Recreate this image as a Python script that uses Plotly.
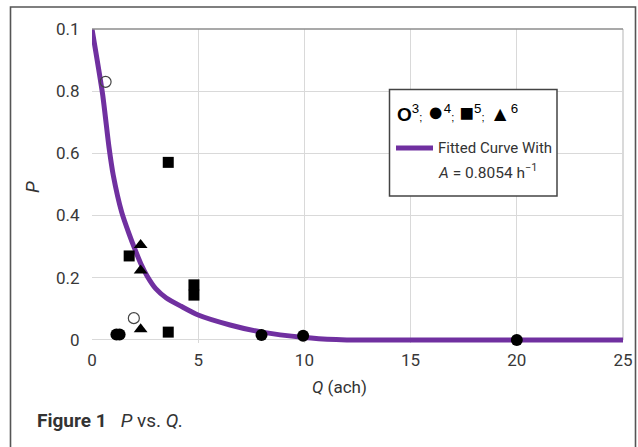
import plotly.graph_objects as go

# ---- data ----
curve_q = [0, 0.5, 0.8, 1.0, 1.4, 1.75, 2.0, 2.3, 2.6, 3.0, 3.5, 4.2, 5.0, 6.5, 8.0, 10.0, 11.5, 12.0, 25.0]
curve_p = [1.0, 0.79, 0.62, 0.53, 0.41, 0.34, 0.295, 0.245, 0.205, 0.165, 0.135, 0.108, 0.08, 0.048, 0.025, 0.008, 0.001, 0.0, 0.0]

open3_q = [0.64, 1.97]
open3_p = [0.83, 0.07]
filled4_q = [1.15, 1.3, 7.98, 9.94, 20.0]
filled4_p = [0.017, 0.017, 0.016, 0.013, 0.0]
square5_q = [1.75, 3.59, 4.8, 4.8, 3.59]
square5_p = [0.27, 0.571, 0.177, 0.144, 0.025]
tri6_q = [2.29, 2.29, 2.29]
tri6_p = [0.305, 0.223, 0.034]

x_ticks = [0, 5, 10, 15, 20, 25]
x_ticktext = ["0", "5", "10", "15", "20", "25"]
y_ticks = [0, 0.2, 0.4, 0.6, 0.8, 1.0]
y_ticktext = ["0", "0.2", "0.4", "0.6", "0.8", "0.1"]

FONT = "Roboto, Liberation Sans, sans-serif"
PURPLE = "#7030A0"
W, H = 638, 447
# plot area in page pixels: x 92..623, y 29..343
PL, PR, PT, PB = 92, 623, 29, 343
ML, MR, MT, MB = PL, W - PR, PT, H - PB
PW, PH = PR - PL, PB - PT


def px(x):
    return (x - PL) / PW


def py(y):
    return (PB - y) / PH


fig = go.Figure()
fig.add_trace(go.Scatter(x=curve_q, y=curve_p, mode="lines",
                         line=dict(color=PURPLE, width=5, shape="spline", smoothing=0.6),
                         showlegend=False, hoverinfo="skip"))
fig.add_trace(go.Scatter(x=open3_q, y=open3_p, mode="markers", cliponaxis=False,
                         marker=dict(symbol="circle", size=11, color="rgba(0,0,0,0)",
                                     line=dict(color="#444", width=1.2)), showlegend=False))
fig.add_trace(go.Scatter(x=filled4_q, y=filled4_p, mode="markers", cliponaxis=False,
                         marker=dict(symbol="circle", size=12, color="black"), showlegend=False))
fig.add_trace(go.Scatter(x=square5_q, y=square5_p, mode="markers", cliponaxis=False,
                         marker=dict(symbol="square", size=11, color="black"), showlegend=False))
fig.add_trace(go.Scatter(x=tri6_q, y=tri6_p, mode="markers", cliponaxis=False,
                         marker=dict(symbol="triangle-up", size=12, color="black"), showlegend=False))

fig.update_layout(
    width=W, height=H,
    margin=dict(l=ML, r=MR, t=MT, b=MB, pad=0, autoexpand=False),
    paper_bgcolor="white", plot_bgcolor="white",
    font=dict(family=FONT, size=17, color="#333"),
    xaxis=dict(range=[0, 25], tickvals=x_ticks, ticktext=x_ticktext, showgrid=True, gridcolor="#d9d9d9",
               gridwidth=1, zeroline=False, showline=False, ticks="", ticklabelstandoff=5,
               tickfont=dict(family=FONT, size=17, color="#383838"), fixedrange=True),
    yaxis=dict(range=[-0.01, 1.0], tickvals=y_ticks, ticktext=y_ticktext, showgrid=True, gridcolor="#d9d9d9",
               gridwidth=1, zeroline=False, showline=False, ticks="outside", ticklen=8,
               tickcolor="rgba(0,0,0,0)", tickfont=dict(family=FONT, size=17, color="#383838"), fixedrange=True),
)

shapes = [
    # outer frame
    dict(type="rect", xref="paper", yref="paper", x0=px(10.5), x1=px(635.5), y0=py(470), y1=py(7),
         line=dict(color="#555", width=1.6), layer="above"),
    # plot top and right border
    dict(type="line", xref="paper", yref="paper", x0=0, x1=1, y0=py(29), y1=py(29),
         line=dict(color="#8c8c8c", width=1.5), layer="above"),
    dict(type="line", xref="paper", yref="paper", x0=1, x1=1, y0=py(29), y1=py(340),
         line=dict(color="#b5b5b5", width=1), layer="below"),
    # legend box
    dict(type="rect", xref="paper", yref="paper", x0=px(389.5), x1=px(557), y0=py(196), y1=py(89.5),
         line=dict(color="#444", width=1.5), fillcolor="white", layer="above"),
    # legend line sample
    dict(type="line", xref="paper", yref="paper", x0=px(396), x1=px(433), y0=py(148), y1=py(148),
         line=dict(color=PURPLE, width=5), layer="above"),
]
fig.update_layout(shapes=shapes)

sc = "<span style='font-size:11px'>;</span>"


def big(ch, size):
    return "<span style='font-size:%dpx'>%s</span>" % (size, ch)


annotations = [
    dict(text="<b>O</b><sup>3</sup>" + sc + " " + big("●", 27) + "<sup>4</sup>" + sc + " "
         + big("■", 24) + "<sup>5</sup>" + sc + " " + big("▲", 21) + "<sup>6</sup>",
         x=px(395), y=py(112), xanchor="left", yanchor="middle",
         font=dict(family="Liberation Sans, DejaVu Sans, sans-serif", size=19, color="black")),
    dict(text="Fitted Curve With", x=px(436), y=py(148), xanchor="left", yanchor="middle",
         font=dict(family=FONT, size=15, color="#333")),
    dict(text="<i>A</i> = 0.8054 h<sup>−1</sup>", x=px(436), y=py(171), xanchor="left", yanchor="middle",
         font=dict(family=FONT, size=15.5, color="#333")),
    dict(text="<i>Q</i> (ach)", x=px(339), y=py(387), xanchor="center", yanchor="middle",
         font=dict(family=FONT, size=17, color="#333")),
    dict(text="<i>P</i>", x=px(32), y=py(187), xanchor="center", yanchor="middle",
         textangle=-90, font=dict(family=FONT, size=19, color="#333")),
    dict(text="<b>Figure 1</b>   <i>P</i> vs. <i>Q.</i>", x=px(35), y=py(420), xanchor="left", yanchor="middle",
         font=dict(family=FONT, size=19, color="#333")),
]
for a in annotations:
    a.update(xref="paper", yref="paper", showarrow=False)
fig.update_layout(annotations=annotations)

fig.write_html("out.html", config={"displayModeBar": False},
               post_script="document.body.style.margin='0px';")
